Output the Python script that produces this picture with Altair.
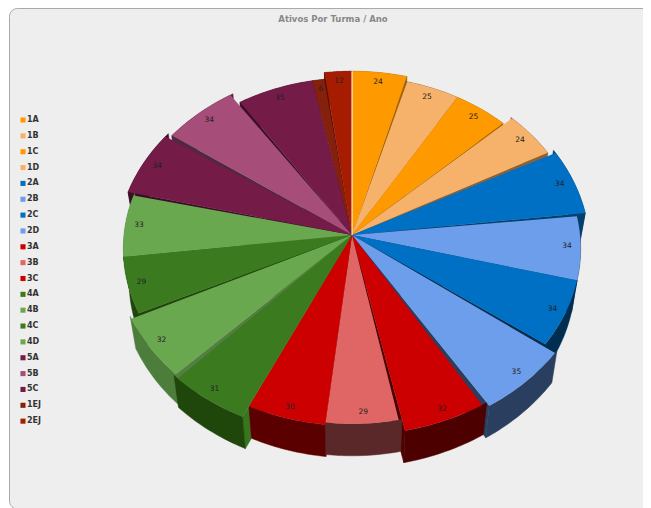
import math
import altair as alt

# ---- chart values (clockwise from 12 o'clock) ----
names = ["1A","1B","1C","1D","2A","2B","2C","2D","3A","3B","3C","4A","4B","4C","4D","5A","5B","5C","1EJ","2EJ"]
values = [24,25,25,24,34,34,34,35,32,29,30,31,32,29,33,34,34,35,6,12]

# ---- styling ----
top_colors = ["#ff9900","#f6b26b","#ff9900","#f6b26b","#0070c4","#6d9eeb","#0070c4","#6d9eeb",
              "#cc0000","#e06666","#cc0000","#3c7a1f","#6aa84f","#3c7a1f","#6aa84f",
              "#741b47","#a64d79","#741b47","#85200c","#a61c00"]
wall_colors = ["#a86500","#8a6238","#a86500","#8a6238","#00406e","#2a3f5f","#002d50","#2a3f5f",
               "#4d0000","#5a2828","#5a0000","#1f470c","#4c7d3a","#1f470c","#4c7d3a",
               "#3b0e28","#4f2a3f","#3b0e28","#4a1206","#5a0e00"]
side_colors = list(wall_colors)
side_colors[11] = "#38761d"
side_colors[12] = "#557f42"
reach = [.99,.96,.96,1.01,1.04,1.0,1.0,1.06,1.04,.98,.99,1.05,1.04,1.0,1.0,1.03,1.01,.95,.95,.99]
# gap (degrees) opened on the lower slice at each boundary (slice i / slice i+1)
gaps = [.6,0,.4,1.0,.8,0,.8,1.2,.8,0,0,1.2,.8,0,.8,1.2,.8,0,.4,0]

CX, CY = 352, 235     # pie centre on the page
RX, RY, P = 228, 178, 0.076
DEPTH, INSET = 32, 0.975


def pt(deg, k=1.0):
    t = math.radians(deg)
    s, c = math.sin(t), math.cos(t)
    d = 1 + P * c
    return (k * RX * s / d, k * RY * c / d)


def low(p):
    return (p[0] * INSET, p[1] - DEPTH)


def feature(kind, coords, name, fill):
    return {"type": "Feature",
            "geometry": {"type": kind, "coordinates": coords},
            "properties": {"name": name, "fill": fill}}


def poly(points):
    pts = [list(p) for p in points]
    pts.append(pts[0])
    return [pts]


total = sum(values)
tops, walls, points = [], [], []
acc = 0
slices = []
for i, v in enumerate(values):
    a0 = acc / total * 360
    acc += v
    a1 = acc / total * 360
    mid = (a0 + a1) / 2
    slices.append((i, a0, a1, mid))

for i, a0, a1, mid in slices:
    # shave the slice that sits lower on screen so the neighbour's wall shows
    s0, s1 = a0, a1
    if 0 < a0 < 180:
        s0 = a0 + gaps[i - 1]     # right half: this slice is below the previous one
    if 180 < a1 < 360:
        s1 = a1 - gaps[i]         # left half: this slice is below the next one
    k = reach[i]
    arc = [pt(s0 + (s1 - s0) * j / 24, k) for j in range(25)]
    tops.append(feature("Polygon", poly([(0, 0)] + arc), names[i], top_colors[i]))
    lx, ly = pt(mid, k * .94)
    points.append({"lon": lx, "lat": ly, "value": values[i]})

order = sorted(slices, key=lambda s: math.cos(math.radians(s[3])), reverse=True)
for i, a0, a1, mid in order:
    k = reach[i]
    arc = [pt(a0 + (a1 - a0) * j / 24, k) for j in range(25)]
    apex = (0, 0)
    if a0 >= 180:   # the cut face at the start of the slice looks toward the viewer
        walls.append(feature("Polygon", poly([apex, arc[0], low(arc[0]), low(apex)]), names[i], side_colors[i]))
    if a1 <= 180:   # the cut face at the end of the slice looks toward the viewer
        walls.append(feature("Polygon", poly([apex, arc[-1], low(arc[-1]), low(apex)]), names[i], wall_colors[i]))
    walls.append(feature("Polygon", poly(arc + [low(p) for p in reversed(arc)]), names[i], wall_colors[i]))

seam = [feature("LineString", [[0, 0], list(pt(0, reach[0]))], "seam", "#ffffff")]

proj = dict(type="identity", reflectY=True, scale=1, translate=[CX - 8, CY - 8])

panel = alt.Chart(alt.Data(values=[{"p": 1}])).mark_rect(
    cornerRadius=8, fill="#eeeeee", stroke="#aaaaaa", strokeWidth=1
).encode(x=alt.value(1.5), x2=alt.value(700), y=alt.value(0.5), y2=alt.value(501))

wall_layer = alt.Chart(alt.Data(values=walls)).mark_geoshape(strokeWidth=0.5).encode(
    fill=alt.Fill("properties.fill:N", scale=None, legend=None),
    stroke=alt.Stroke("properties.fill:N", scale=None, legend=None),
).project(**proj)

top_layer = alt.Chart(alt.Data(values=tops)).mark_geoshape(strokeWidth=0).encode(
    color=alt.Color(
        "properties.name:N",
        scale=alt.Scale(domain=names, range=top_colors),
        sort=None,
        legend=alt.Legend(
            title=None, orient="none", legendX=11, legendY=108, symbolType="square",
            symbolSize=26, symbolStrokeWidth=0, labelFont="DejaVu Sans", labelFontSize=8,
            labelFontWeight="bold", labelColor="#333333", labelOffset=0, rowPadding=7.85,
            padding=0, columns=1,
        ),
    ),
).project(**proj)

seam_layer = alt.Chart(alt.Data(values=seam)).mark_geoshape(
    filled=False, stroke="#ffffff", strokeWidth=1
).project(**proj)

label_layer = alt.Chart(alt.Data(values=points)).mark_text(
    font="DejaVu Sans", fontSize=7.5, color="#222222"
).encode(longitude="lon:Q", latitude="lat:Q", text="value:Q").project(**proj)

chart = alt.layer(panel, wall_layer, top_layer, seam_layer, label_layer).properties(
    width=635,
    height=500,
    padding=0,
    autosize=alt.AutoSizeParams(type="none"),
    background="white",
    title=alt.TitleParams(
        "Ativos Por Turma / Ano", anchor="middle", dx=7.5, dy=15, offset=0,
        font="DejaVu Sans", fontSize=8.5, fontWeight="bold", color="#888888",
    ),
).configure_view(stroke=None)

chart.save("out.html", embed_options={"renderer": "svg", "actions": False})
